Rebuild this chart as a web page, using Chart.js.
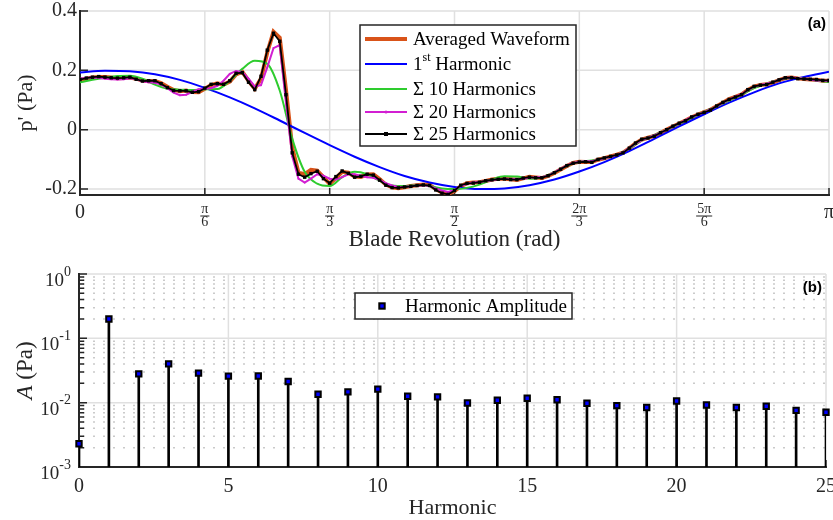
<!DOCTYPE html>
<html>
<head>
<meta charset="utf-8">
<title>Blade pressure waveform</title>
<script src="https://cdn.jsdelivr.net/npm/chart.js@4.4.1/dist/chart.umd.min.js"></script>
<style>
  body { margin: 0; background: #fff; }
  #waveChart { position: absolute; left: 0; top: 0; }
  #harmChart { position: absolute; left: 0; top: 255px; }
</style>
</head>
<body>
<canvas id="waveChart" width="833" height="255"></canvas>
<canvas id="harmChart" width="833" height="265"></canvas>
<script>
// sample angles in degrees (converted to rad for the axis)
const angleFine = [0,1.5,3,4.5,6,7.5,9,10.5,12,13.5,
  15,16.5,18,19.5,21,22.5,24,25.5,27,28.5,
  30,31.5,33,34.5,36,37.5,39,40.5,42,43.5,
  45,46.5,48,49.5,51,52.5,54,55.5,57,58.5,
  60,61.5,63,64.5,66,67.5,69,70.5,72,73.5,
  75,76.5,78,79.5,81,82.5,84,85.5,87,88.5,
  90,91.5,93,94.5,96,97.5,99,100.5,102,103.5,
  105,106.5,108,109.5,111,112.5,114,115.5,117,118.5,
  120,121.5,123,124.5,126,127.5,129,130.5,132,133.5,
  135,136.5,138,139.5,141,142.5,144,145.5,147,148.5,
  150,151.5,153,154.5,156,157.5,159,160.5,162,163.5,
  165,166.5,168,169.5,171,172.5,174,175.5,177,178.5,
  180];
const angleMid = [0,3,6,9,12,15,18,21,24,27,
  30,33,36,39,42,45,48,51,54,57,
  60,63,66,69,72,75,78,81,84,87,
  90,93,96,99,102,105,108,111,114,117,
  120,123,126,129,132,135,138,141,144,147,
  150,153,156,159,162,165,168,171,174,177,
  180];
const angleCoarse = [0,6,12,18,24,30,36,42,48,54,60,66,72,78,84,90,
  96,102,108,114,120,126,132,138,144,150,156,162,168,174,180];

const averaged = [0.167,0.172,0.176,0.178,0.178,0.176,0.173,0.174,0.176,0.172,
  0.166,0.163,0.164,0.157,0.145,0.134,0.130,0.132,0.127,0.126,
  0.138,0.150,0.156,0.152,0.162,0.186,0.195,0.165,0.138,0.172,
  0.260,0.330,0.310,0.135,-0.060,-0.145,-0.150,-0.135,-0.138,-0.160,
  -0.183,-0.163,-0.142,-0.145,-0.158,-0.159,-0.151,-0.150,-0.166,-0.185,
  -0.194,-0.197,-0.194,-0.190,-0.187,-0.185,-0.186,-0.200,-0.212,-0.216,
  -0.207,-0.190,-0.180,-0.178,-0.177,-0.173,-0.168,-0.165,-0.165,-0.167,
  -0.169,-0.164,-0.159,-0.161,-0.163,-0.156,-0.146,-0.134,-0.122,-0.112,
  -0.108,-0.109,-0.109,-0.101,-0.096,-0.090,-0.084,-0.077,-0.063,-0.046,
  -0.033,-0.027,-0.021,-0.011,0.001,0.011,0.021,0.031,0.042,0.051,
  0.059,0.067,0.079,0.091,0.103,0.111,0.119,0.134,0.145,0.151,
  0.153,0.159,0.167,0.174,0.176,0.173,0.171,0.169,0.168,0.165,
  0.165];
const firstHarmonic = [0.193,0.199,0.197,0.187,0.168,0.141,0.109,0.072,0.031,-0.011,
  -0.052,-0.091,-0.126,-0.156,-0.178,-0.193,-0.200,-0.198,-0.187,-0.168,
  -0.141,-0.109,-0.072,-0.031,0.011,0.052,0.091,0.126,0.156,0.178,0.195];
const sum10 = [0.160,0.168,0.175,0.181,0.182,0.172,0.152,0.138,0.135,0.134,
  0.136,0.137,0.165,0.205,0.232,0.222,0.132,-0.030,-0.142,-0.182,
  -0.190,-0.160,-0.142,-0.150,-0.172,-0.188,-0.190,-0.186,-0.190,-0.198,
  -0.200,-0.196,-0.185,-0.168,-0.157,-0.158,-0.165,-0.160,-0.143,-0.122,
  -0.108,-0.104,-0.096,-0.085,-0.064,-0.036,-0.018,0.000,0.020,0.040,
  0.060,0.078,0.098,0.118,0.140,0.155,0.168,0.175,0.172,0.166,
  0.161];
const sum20 = [0.172,0.175,0.176,0.175,0.172,0.170,0.169,0.170,0.173,0.170,
  0.163,0.160,0.158,0.152,0.140,0.125,0.116,0.118,0.128,0.136,
  0.138,0.140,0.148,0.165,0.188,0.198,0.195,0.172,0.146,0.150,
  0.210,0.275,0.285,0.090,-0.090,-0.165,-0.178,-0.165,-0.150,-0.155,
  -0.165,-0.168,-0.160,-0.150,-0.150,-0.155,-0.160,-0.162,-0.170,-0.180,
  -0.188,-0.193,-0.193,-0.190,-0.188,-0.187,-0.190,-0.198,-0.205,-0.210,
  -0.203,-0.190,-0.182,-0.178,-0.176,-0.173,-0.170,-0.167,-0.165,-0.166,
  -0.167,-0.165,-0.162,-0.160,-0.160,-0.154,-0.144,-0.132,-0.120,-0.112,
  -0.108,-0.106,-0.106,-0.101,-0.096,-0.091,-0.085,-0.076,-0.062,-0.047,
  -0.035,-0.027,-0.019,-0.010,0.000,0.011,0.021,0.032,0.043,0.051,
  0.059,0.068,0.079,0.090,0.101,0.111,0.120,0.133,0.144,0.151,
  0.155,0.161,0.168,0.174,0.176,0.174,0.172,0.168,0.166,0.165,
  0.164];
const sum25 = [0.169,0.174,0.177,0.179,0.177,0.175,0.174,0.175,0.177,0.170,
  0.164,0.165,0.165,0.155,0.142,0.132,0.131,0.131,0.126,0.128,
  0.140,0.153,0.155,0.153,0.165,0.190,0.192,0.160,0.135,0.180,
  0.268,0.325,0.298,0.118,-0.078,-0.150,-0.160,-0.148,-0.140,-0.165,
  -0.180,-0.158,-0.139,-0.147,-0.160,-0.157,-0.150,-0.153,-0.170,-0.187,
  -0.195,-0.196,-0.193,-0.191,-0.188,-0.186,-0.188,-0.203,-0.214,-0.218,
  -0.205,-0.187,-0.181,-0.180,-0.177,-0.172,-0.169,-0.167,-0.166,-0.168,
  -0.168,-0.163,-0.160,-0.162,-0.162,-0.155,-0.145,-0.133,-0.121,-0.113,
  -0.109,-0.108,-0.110,-0.100,-0.095,-0.090,-0.085,-0.078,-0.062,-0.045,
  -0.032,-0.028,-0.022,-0.010,0.000,0.012,0.022,0.030,0.043,0.052,
  0.058,0.066,0.080,0.092,0.102,0.110,0.118,0.135,0.146,0.150,
  0.152,0.160,0.168,0.175,0.175,0.172,0.171,0.170,0.169,0.166,
  0.166];

const pTicks = [-0.2, 0, 0.2, 0.4];
const piTickValues = [0, Math.PI / 6, Math.PI / 3, Math.PI / 2, 2 * Math.PI / 3, 5 * Math.PI / 6, Math.PI];
const piTickLabels = [['0'], ['π', '6'], ['π', '3'], ['π', '2'], ['2π', '3'], ['5π', '6'], ['π']];

const harmonics = [0,1,2,3,4,5,6,7,8,9,10,11,12,13,14,15,16,17,18,19,20,21,22,23,24,25];
const amplitude = [0.0023,0.20,0.028,0.040,0.0288,0.0258,0.026,0.0213,0.0135,0.0147,
  0.0162,0.0126,0.0123,0.0099,0.0109,0.0117,0.0111,0.0098,0.0090,0.0084,
  0.0106,0.0092,0.0084,0.0088,0.0076,0.0071];
const harmonicTicks = [0, 5, 10, 15, 20, 25];
const decadeTicks = [0.001, 0.01, 0.1, 1];
const decadeExponents = ['-3', '-2', '-1', '0'];

const FONT = '"Liberation Serif", "Times New Roman", serif';
const AXIS_COLOR = '#262626';
const GRID_COLOR = '#e0e0e0';
Chart.defaults.font.family = FONT;

const toRad = d => d * Math.PI / 180;
function pairs(xs, ys) {
  return xs.map((x, i) => ({ x: toRad(x), y: ys[i] }));
}

function drawMarker(ctx, style, x, y, size, fill, stroke, lw) {
  ctx.save();
  ctx.fillStyle = fill;
  if (style === 'rect') {
    ctx.fillRect(x - size / 2, y - size / 2, size, size);
    if (lw) { ctx.strokeStyle = stroke; ctx.lineWidth = lw; ctx.strokeRect(x - size / 2, y - size / 2, size, size); }
  } else {
    ctx.beginPath(); ctx.arc(x, y, size / 2, 0, Math.PI * 2); ctx.fill();
  }
  ctx.restore();
}

// ---------- top panel ----------
const xTickPad = 8;
const waveDecor = {
  id: 'waveDecor',
  beforeDraw(chart) {
    const { ctx, chartArea: a, scales: { x, y } } = chart;
    ctx.save();
    ctx.strokeStyle = GRID_COLOR;
    ctx.lineWidth = 1.5;
    ctx.beginPath();
    piTickValues.forEach(v => {
      if (v === 0) return;
      const px = x.getPixelForValue(v);
      ctx.moveTo(px, a.top); ctx.lineTo(px, a.bottom);
    });
    pTicks.forEach(v => {
      const py = y.getPixelForValue(v);
      ctx.moveTo(a.left, py); ctx.lineTo(a.right, py);
    });
    ctx.stroke();
    ctx.restore();
  },
  beforeDatasetsDraw(chart) {
    const { ctx, chartArea: a, scales: { x, y } } = chart;
    ctx.save();
    ctx.strokeStyle = AXIS_COLOR;
    ctx.lineWidth = 1.5;
    ctx.beginPath();
    piTickValues.forEach(v => {
      const px = x.getPixelForValue(v);
      ctx.moveTo(px, a.bottom); ctx.lineTo(px, a.bottom - 7);
    });
    pTicks.forEach(v => {
      const py = y.getPixelForValue(v);
      ctx.moveTo(a.left, py); ctx.lineTo(a.left + 8, py);
    });
    ctx.stroke();
    ctx.restore();
  },
  afterDraw(chart) {
    const { ctx, scales: { x } } = chart;
    ctx.save();
    // fraction bars under pi labels
    ctx.font = '14px ' + FONT;
    ctx.fillStyle = AXIS_COLOR;
    piTickLabels.forEach((lab, i) => {
      if (lab.length < 2) return;
      const px = x.getPixelForValue(piTickValues[i]);
      const w = Math.max(ctx.measureText(lab[0]).width, ctx.measureText(lab[1]).width) + 2;
      const py = x.top + xTickPad + 13;
      ctx.fillRect(px - w / 2, py - 0.5, w, 1);
    });

    // legend
    const box = { left: 360, top: 25, right: 576, bottom: 146 };
    const rowY = [39, 64, 89, 112, 134];
    ctx.fillStyle = '#fff';
    ctx.fillRect(box.left, box.top, box.right - box.left, box.bottom - box.top);
    ctx.strokeStyle = AXIS_COLOR;
    ctx.lineWidth = 1.5;
    ctx.strokeRect(box.left, box.top, box.right - box.left, box.bottom - box.top);
    const legendOrder = [4, 3, 2, 1, 0];
    legendOrder.forEach((di, r) => {
      const ds = chart.data.datasets[di];
      const yy = rowY[r];
      ctx.strokeStyle = ds.borderColor;
      ctx.lineWidth = ds.borderWidth;
      ctx.beginPath(); ctx.moveTo(365, yy); ctx.lineTo(407, yy); ctx.stroke();
      if (ds.pointRadius > 0) {
        drawMarker(ctx, ds.pointStyle, 386, yy, ds.pointStyle === 'rect' ? 4 : 3, ds.borderColor);
      }
      ctx.fillStyle = '#000';
      ctx.textBaseline = 'middle';
      ctx.textAlign = 'left';
      if (ds.label.startsWith('1st')) {
        ctx.font = '19px ' + FONT;
        ctx.fillText('1', 413, yy + 1);
        const w1 = ctx.measureText('1').width;
        ctx.font = '12px ' + FONT;
        ctx.fillText('st', 413 + w1, yy - 6);
        const w2 = ctx.measureText('st').width;
        ctx.font = '19px ' + FONT;
        ctx.fillText(' Harmonic', 413 + w1 + w2, yy + 1);
      } else {
        ctx.font = '19px ' + FONT;
        ctx.fillText(ds.label, 413, yy + 1);
      }
    });

    ctx.font = 'bold 15px "Liberation Sans", Arial, sans-serif';
    ctx.fillStyle = '#000';
    ctx.textAlign = 'right';
    ctx.fillText('(a)', 826, 24);
    ctx.restore();
  }
};

new Chart(document.getElementById('waveChart'), {
  type: 'line',
  data: {
    datasets: [
      { label: 'Σ 25 Harmonics', data: pairs(angleFine, sum25), borderColor: '#000000',
        backgroundColor: '#000000', pointBackgroundColor: '#000000', borderWidth: 1.8,
        pointStyle: 'rect', pointRadius: 2.4, pointBorderWidth: 0, order: 0 },
      { label: 'Σ 20 Harmonics', data: pairs(angleFine, sum20), borderColor: '#d21fd2',
        backgroundColor: '#d21fd2', pointBackgroundColor: '#d21fd2', borderWidth: 2,
        pointStyle: 'circle', pointRadius: 1, pointBorderWidth: 0, order: 1 },
      { label: 'Σ 10 Harmonics', data: pairs(angleMid, sum10), borderColor: '#2ecc2e',
        borderWidth: 2, pointRadius: 0, cubicInterpolationMode: 'monotone', order: 2 },
      { label: '1st Harmonic', data: pairs(angleCoarse, firstHarmonic), borderColor: '#0000ff',
        borderWidth: 2, pointRadius: 0, cubicInterpolationMode: 'monotone', order: 3 },
      { label: 'Averaged Waveform', data: pairs(angleFine, averaged), borderColor: '#d95319',
        borderWidth: 4, pointRadius: 0, order: 4 }
    ]
  },
  options: {
    responsive: false,
    animation: false,
    layout: { padding: { top: 11, right: 4, left: 0, bottom: 0 } },
    plugins: { legend: { display: false }, tooltip: { enabled: false } },
    scales: {
      x: {
        type: 'linear', min: 0, max: Math.PI,
        afterBuildTicks: s => { s.ticks = piTickValues.map(v => ({ value: v })); },
        afterFit: s => { s.height = 60; s.paddingLeft = 0; s.paddingRight = 0; },
        grid: { display: false, drawTicks: false },
        border: { display: true, color: AXIS_COLOR, width: 2 },
        ticks: {
          autoSkip: false, maxRotation: 0, padding: xTickPad, color: AXIS_COLOR,
          callback: (v, i) => piTickLabels[i],
          font: c => {
            const frac = piTickLabels[c.index] && piTickLabels[c.index].length > 1;
            return { family: FONT, size: frac ? 14 : 20, lineHeight: frac ? 0.93 : 1 };
          }
        },
        title: { display: true, text: 'Blade Revolution (rad)', color: AXIS_COLOR,
          font: { family: FONT, size: 23 }, padding: { top: 0, bottom: 1 } }
      },
      y: {
        min: -0.22, max: 0.4,
        afterBuildTicks: s => { s.ticks = pTicks.map(v => ({ value: v })); },
        afterFit: s => { s.width = 80; s.paddingTop = 0; s.paddingBottom = 0; },
        grid: { display: false, drawTicks: false },
        border: { display: true, color: AXIS_COLOR, width: 2 },
        ticks: {
          padding: 3, color: AXIS_COLOR, font: { family: FONT, size: 20 },
          callback: v => (v === 0 ? '0' : v.toFixed(1))
        },
        title: { display: true, text: "p' (Pa)", color: AXIS_COLOR,
          font: { family: FONT, size: 22 }, padding: { top: 13, bottom: 0 } }
      }
    }
  },
  plugins: [waveDecor]
});

// ---------- bottom panel ----------
const minorTicks = [];
[0.001, 0.01, 0.1].forEach(d => { for (let m = 2; m <= 9; m++) minorTicks.push(m * d); });

const harmDecor = {
  id: 'harmDecor',
  beforeDraw(chart) {
    const { ctx, chartArea: a, scales: { x, y } } = chart;
    ctx.save();
    ctx.strokeStyle = GRID_COLOR;
    ctx.lineWidth = 1.5;
    ctx.beginPath();
    harmonicTicks.forEach(v => {
      if (v === 0) return;
      const px = x.getPixelForValue(v);
      ctx.moveTo(px, a.top); ctx.lineTo(px, a.bottom);
    });
    decadeTicks.forEach(v => {
      const py = y.getPixelForValue(v);
      ctx.moveTo(a.left, py); ctx.lineTo(a.right, py);
    });
    ctx.stroke();
    ctx.strokeStyle = '#cacaca';
    ctx.setLineDash([2, 8]);
    ctx.beginPath();
    minorTicks.forEach(v => {
      const py = y.getPixelForValue(v);
      ctx.moveTo(a.left + 4, py); ctx.lineTo(a.right, py);
    });
    ctx.stroke();
    ctx.restore();
  },
  beforeDatasetsDraw(chart) {
    const { ctx, chartArea: a, scales: { x, y } } = chart;
    ctx.save();
    ctx.strokeStyle = AXIS_COLOR;
    ctx.lineWidth = 1.5;
    ctx.beginPath();
    harmonicTicks.forEach(v => {
      const px = x.getPixelForValue(v);
      ctx.moveTo(px, a.bottom); ctx.lineTo(px, a.bottom - 7);
    });
    decadeTicks.forEach(v => {
      const py = y.getPixelForValue(v);
      ctx.moveTo(a.left, py); ctx.lineTo(a.left + 8, py);
    });
    minorTicks.forEach(v => {
      const py = y.getPixelForValue(v);
      ctx.moveTo(a.left, py); ctx.lineTo(a.left + 5, py);
    });
    ctx.stroke();
    ctx.restore();
  },
  afterDraw(chart) {
    const { ctx, chartArea: a, scales: { y } } = chart;
    ctx.save();
    ctx.fillStyle = AXIS_COLOR;
    ctx.textBaseline = 'middle';
    ctx.textAlign = 'right';
    decadeTicks.forEach((v, i) => {
      const py = y.getPixelForValue(v);
      ctx.font = '14px ' + FONT;
      const ew = ctx.measureText(decadeExponents[i]).width;
      ctx.fillText(decadeExponents[i], 71, py - 2);
      ctx.font = '19px ' + FONT;
      ctx.fillText('10', 71 - ew, py + 7);
    });

    // y title with italic A
    ctx.translate(26, (a.top + a.bottom) / 2);
    ctx.rotate(-Math.PI / 2);
    ctx.textAlign = 'left';
    ctx.font = 'italic 23px ' + FONT;
    const wA = ctx.measureText('A').width;
    ctx.font = '23px ' + FONT;
    const wR = ctx.measureText(' (Pa)').width;
    const x0 = -(wA + wR) / 2;
    ctx.font = 'italic 23px ' + FONT;
    ctx.fillText('A', x0, 0);
    ctx.font = '23px ' + FONT;
    ctx.fillText(' (Pa)', x0 + wA, 0);
    ctx.setTransform(1, 0, 0, 1, 0, 0);

    // legend
    const box = { left: 355, top: 38, right: 572, bottom: 64 };
    ctx.fillStyle = '#fff';
    ctx.fillRect(box.left, box.top, box.right - box.left, box.bottom - box.top);
    ctx.strokeStyle = AXIS_COLOR;
    ctx.lineWidth = 1.5;
    ctx.strokeRect(box.left, box.top, box.right - box.left, box.bottom - box.top);
    drawMarker(ctx, 'rect', 382, 51, 5.4, '#0000ff', '#000', 2);
    ctx.fillStyle = '#000';
    ctx.textAlign = 'left';
    ctx.font = '19px ' + FONT;
    ctx.fillText(chart.data.datasets[0].label, 405, 52);

    ctx.font = 'bold 15px "Liberation Sans", Arial, sans-serif';
    ctx.textAlign = 'right';
    ctx.fillText('(b)', 822, 33);
    ctx.restore();
  }
};

new Chart(document.getElementById('harmChart'), {
  type: 'bar',
  data: {
    datasets: [
      { type: 'scatter', label: 'Harmonic Amplitude',
        data: harmonics.map((h, i) => ({ x: h, y: amplitude[i] })),
        pointStyle: 'rect', pointRadius: 3.8, pointBackgroundColor: '#0000ff',
        pointBorderColor: '#000000', pointBorderWidth: 2, clip: false, order: 0 },
      { type: 'bar', label: 'stems',
        data: harmonics.map((h, i) => ({ x: h, y: [decadeTicks[0], amplitude[i]] })),
        backgroundColor: '#000000', barThickness: 2, order: 1 }
    ]
  },
  options: {
    responsive: false,
    animation: false,
    layout: { padding: { top: 19, right: 7, left: 0, bottom: 0 } },
    plugins: { legend: { display: false }, tooltip: { enabled: false } },
    scales: {
      x: {
        type: 'linear', min: 0, max: 25, offset: false,
        afterBuildTicks: s => { s.ticks = harmonicTicks.map(v => ({ value: v })); },
        afterFit: s => { s.height = 53; s.paddingLeft = 0; s.paddingRight = 0; },
        grid: { display: false, drawTicks: false },
        border: { display: true, color: AXIS_COLOR, width: 2 },
        ticks: { autoSkip: false, maxRotation: 0, padding: 10, color: AXIS_COLOR,
          font: { family: FONT, size: 20, lineHeight: 1 } },
        title: { display: true, text: 'Harmonic', color: AXIS_COLOR,
          font: { family: FONT, size: 22, lineHeight: 1.1 }, padding: { top: 0, bottom: 0 } }
      },
      y: {
        type: 'logarithmic', min: 0.001, max: 1,
        afterFit: s => { s.width = 79; s.paddingTop = 0; s.paddingBottom = 0; },
        grid: { display: false, drawTicks: false },
        border: { display: true, color: AXIS_COLOR, width: 2 },
        ticks: { display: false }
      }
    }
  },
  plugins: [harmDecor]
});
</script>
</body>
</html>
